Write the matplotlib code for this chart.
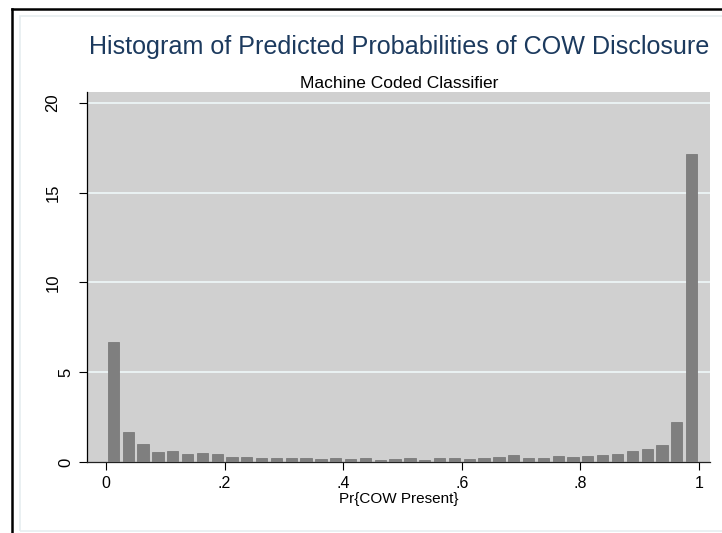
import matplotlib
matplotlib.use("Agg")
import matplotlib.pyplot as plt
from matplotlib.patches import Rectangle
from matplotlib.lines import Line2D
import matplotlib.transforms as mtransforms
import numpy as np

# density of each of the 40 bins (width .025)
bin_edges = np.linspace(0, 1, 41)
density = [6.69, 1.69, 0.99, 0.56, 0.62, 0.43, 0.49, 0.45, 0.30, 0.26,
           0.21, 0.22, 0.21, 0.24, 0.17, 0.21, 0.19, 0.22, 0.11, 0.15,
           0.22, 0.12, 0.21, 0.21, 0.19, 0.21, 0.30, 0.39, 0.24, 0.24,
           0.32, 0.30, 0.32, 0.39, 0.45, 0.62, 0.75, 0.97, 2.21, 17.17]
xticks = [0, 0.2, 0.4, 0.6, 0.8, 1.0]
xticklabels = ["0", ".2", ".4", ".6", ".8", "1"]
yticks = [0, 5, 10, 15, 20]
yticklabels = ["0", "5", "10", "15", "20"]

plt.rcParams['font.family'] = ['Liberation Sans', 'DejaVu Sans']

fig = plt.figure(figsize=(7.22, 5.33), dpi=100)
W, H = 722, 533

# outer black frame (left and top) and the faint inner frame
fig.add_artist(Line2D([12 / W, 12 / W], [0, 1 - 9 / H], color='black', lw=1.8,
                      transform=fig.transFigure))
fig.add_artist(Line2D([12 / W, 1], [1 - 9 / H, 1 - 9 / H], color='black', lw=1.8,
                      transform=fig.transFigure))
fig.add_artist(Rectangle((20 / W, 2 / H), 1, 1 - 18 / H, fill=False,
                         edgecolor='#e6eef0', lw=1.2, transform=fig.transFigure))

ax = fig.add_axes([87 / W, 71 / H, 623 / W, 370 / H])
ax.set_facecolor('#d0d0d0')

centers = (bin_edges[:-1] + bin_edges[1:]) / 2
width = bin_edges[1] - bin_edges[0]
ax.bar(centers, density, width=width * 0.76, color='#7f7f7f',
       edgecolor='#7a7a7a', linewidth=0.6, zorder=3)

ax.set_xlim(-0.032, 1.0185)
ax.set_ylim(0, 20.6)

for y in yticks[1:]:
    ax.axhline(y, color='#eaf2f3', lw=1.4, zorder=1)

for s in ['top', 'right']:
    ax.spines[s].set_visible(False)
ax.spines['left'].set_color('black')
ax.spines['bottom'].set_color('#222222')
ax.spines['left'].set_linewidth(0.9)
ax.spines['bottom'].set_linewidth(0.9)

ax.set_xticks(xticks)
ax.set_xticklabels(xticklabels, fontsize=11.5)
ax.set_yticks(yticks)
ax.set_yticklabels([])
ax.tick_params(axis='x', length=6, width=0.8, pad=4, colors='black')
ax.tick_params(axis='y', length=6, width=0.8, colors='black')

# rotated y labels, Stata-style placement
tr = mtransforms.blended_transform_factory(fig.transFigure, ax.transData)
for v, lab in zip(yticks, yticklabels):
    xpix = 53 if len(lab) > 1 else 66
    ax.text(xpix / W, v, lab, rotation=90, ha='center', va='center',
            fontsize=12, transform=tr, clip_on=False)

ax.set_xlabel("Pr{COW Present}", fontsize=11, labelpad=0.5)

fig.text(399 / W, 1 - 47 / H, "Histogram of Predicted Probabilities of COW Disclosure",
         ha='center', va='center', fontsize=18.1, color='#1c3a5e')
fig.text(399 / W, 1 - 83 / H, "Machine Coded Classifier",
         ha='center', va='center', fontsize=12.5, color='black')

fig.savefig("out.png", dpi=100)
